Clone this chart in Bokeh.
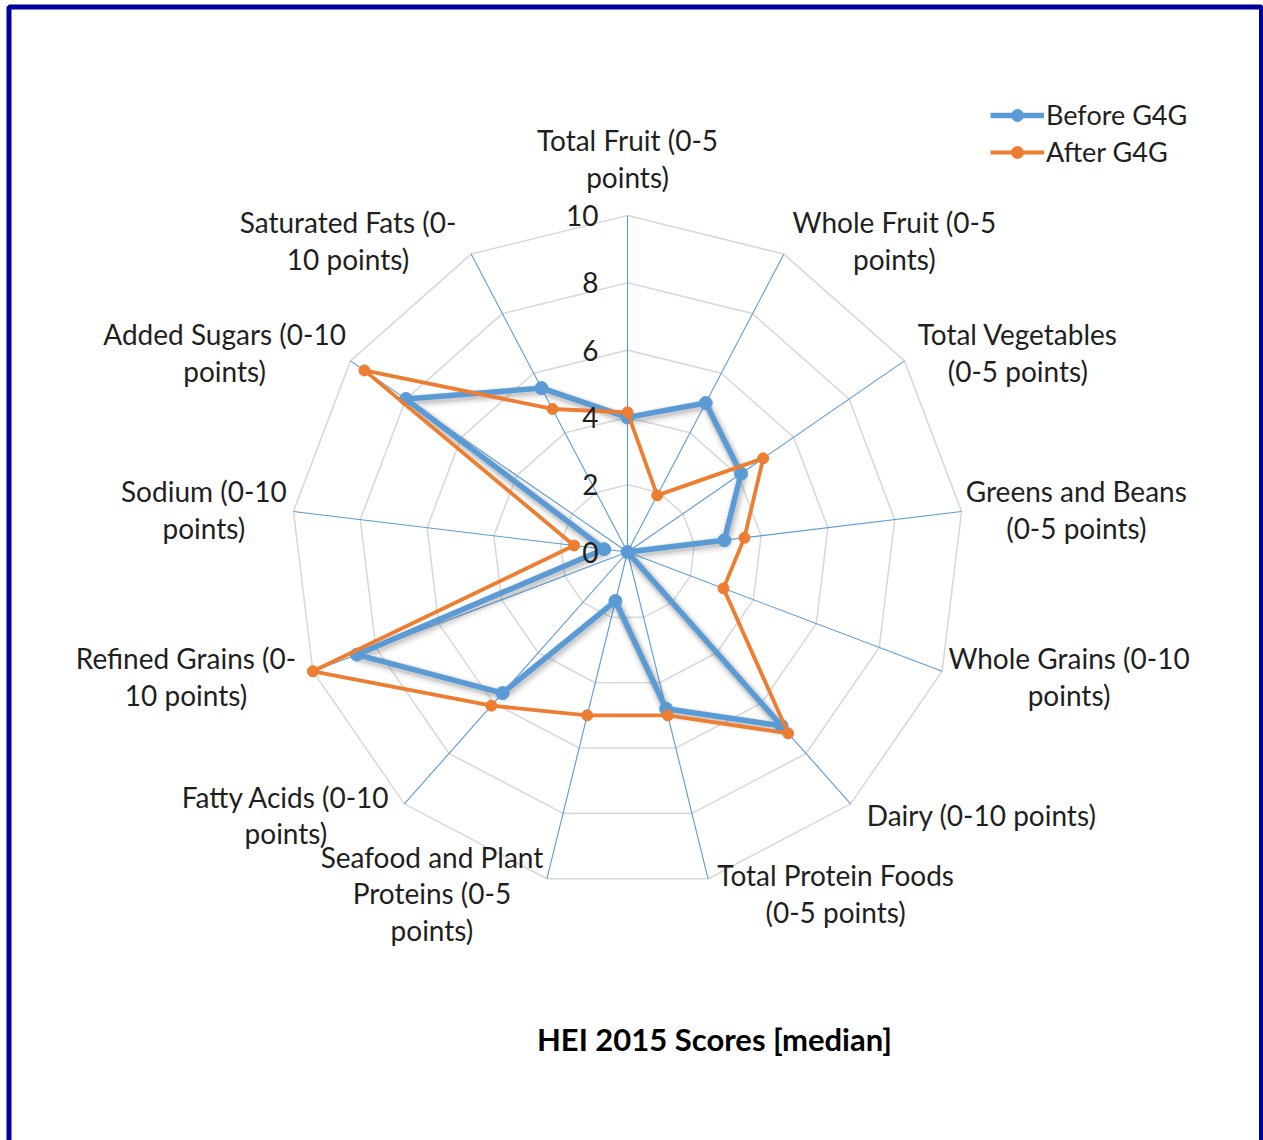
import numpy as np
from bokeh.plotting import figure
from bokeh.models import Range1d, Legend, LegendItem
from bokeh.core.properties import value
from bokeh.embed import file_html
from bokeh.resources import INLINE

# HEI-2015 components (clockwise from the top), as wrapped axis labels
categories = [
    "Total Fruit (0-5\npoints)",
    "Whole Fruit (0-5\npoints)",
    "Total Vegetables\n(0-5 points)",
    "Greens and Beans\n(0-5 points)",
    "Whole Grains (0-10\npoints)",
    "Dairy (0-10 points)",
    "Total Protein Foods\n(0-5 points)",
    "Seafood and Plant\nProteins (0-5\npoints)",
    "Fatty Acids (0-10\npoints)",
    "Refined Grains (0-\n10 points)",
    "Sodium (0-10\npoints)",
    "Added Sugars (0-10\npoints)",
    "Saturated Fats (0-\n10 points)",
]
before_g4g = [4.0, 5.0, 4.1, 2.9, 0.0, 6.9, 4.8, 1.5, 5.6, 8.6, 0.7, 8.0, 5.5]
after_g4g = [4.15, 1.9, 4.9, 3.5, 3.05, 7.2, 5.0, 5.0, 6.1, 10.0, 1.6, 9.5, 4.8]
ring_levels = [0, 2, 4, 6, 8, 10]
series_names = ["Before G4G", "After G4G"]
chart_title = "HEI 2015 Scores [median]"

# ---- layout (screen pixels) ----
W, H = 1263, 1140
CX, CY = 627.0, 551.5          # chart centre
PX = 33.65                     # pixels per score point
R_MAX = ring_levels[-1]

FONT = "Lato"
LABEL_PX = 28
LINE_PX = 37
CHAR_PX = 12.6                 # rough average glyph width for label sizing
TEXT_COLOR = "#1f1f1f"
BLUE = "#5B9BD5"
ORANGE = "#ED7D31"
GRID = "#D9D9D9"


def ux(px):
    return (px - CX) / PX


def uy(py):
    return (CY - py) / PX


p = figure(
    width=W, height=H,
    x_range=Range1d(ux(0), ux(W)), y_range=Range1d(uy(H), uy(0)),
    output_backend="svg", toolbar_location=None,
    x_axis_location=None, y_axis_location=None,
    min_border=0, outline_line_color=None,
    background_fill_color="white", border_fill_color="white",
)
p.xgrid.visible = False
p.ygrid.visible = False

n = len(categories)
theta = np.arange(n) * 2 * np.pi / n
sin_t, cos_t = np.sin(theta), np.cos(theta)

# ring gridlines
ring_xs, ring_ys = [], []
for lvl in ring_levels[1:]:
    ring_xs.append(list(lvl * sin_t) + [lvl * sin_t[0]])
    ring_ys.append(list(lvl * cos_t) + [lvl * cos_t[0]])
p.multi_line(ring_xs, ring_ys, line_color=GRID, line_width=1.6)

# spokes
p.multi_line([[0, R_MAX * s] for s in sin_t], [[0, R_MAX * c] for c in cos_t],
             line_color=BLUE, line_width=1.1)


def closed(vals):
    v = np.asarray(vals, dtype=float)
    xs = v * sin_t
    ys = v * cos_t
    return list(xs) + [xs[0]], list(ys) + [ys[0]], list(xs), list(ys)


bx, by, bpx, bpy = closed(before_g4g)
ax_, ay_, apx, apy = closed(after_g4g)

# soft drop shadow under the "before" series
for w, a, dx, dy in [(15, 0.07, 1.5, 3.0), (11, 0.11, 1.5, 2.5), (8, 0.16, 1.0, 2.0)]:
    p.line([x + dx / PX for x in bx], [y - dy / PX for y in by],
           line_color="#606060", line_width=w, line_alpha=a, line_join="round")

b_line = p.line(bx, by, line_color=BLUE, line_width=5.5, line_join="round")
b_pts = p.scatter(bpx, bpy, size=13, fill_color=BLUE, line_color=BLUE)
a_line = p.line(ax_, ay_, line_color=ORANGE, line_width=3.8, line_join="round")
a_pts = p.scatter(apx, apy, size=11, fill_color=ORANGE, line_color=ORANGE)

# category labels placed just outside each spoke end
lab_x, lab_y = [], []
for k, lab in enumerate(categories):
    lines = lab.split("\n")
    w_est = max(len(s) for s in lines) * CHAR_PX
    h = len(lines) * LINE_PX
    ex = CX + R_MAX * PX * sin_t[k]
    ey = CY - R_MAX * PX * cos_t[k]
    if abs(sin_t[k]) < 0.05:
        cx, cy = ex, ey - 20 - h / 2
    else:
        sgn = np.sign(sin_t[k])
        cx = ex + sgn * (6 + 8 * abs(sin_t[k]) + w_est / 2)
        cy = ey - 15 * cos_t[k]
    lab_x.append(ux(cx))
    lab_y.append(uy(cy))
p.text(lab_x, lab_y, text=categories, text_font=value(FONT),
       text_font_size=f"{LABEL_PX}px", text_color=TEXT_COLOR,
       text_align="center", text_baseline="middle",
       text_line_height=1.08)

# radial tick labels along the top spoke
p.text([0] * len(ring_levels), ring_levels, text=[str(v) for v in ring_levels],
       x_offset=-29, text_font=value(FONT), text_font_size=f"{LABEL_PX}px",
       text_color=TEXT_COLOR, text_align="right", text_baseline="middle")

# title
p.text([ux(714)], [uy(1038)], text=[chart_title], text_font=value(FONT),
       text_font_size="31px", text_font_style="bold", text_color="#000000",
       text_align="center", text_baseline="middle")

# outer frame
p.quad(left=[ux(8.5)], right=[ux(1261)], top=[uy(6.5)], bottom=[uy(1200)],
       fill_color=None, line_color="#00009E", line_width=5)

legend = Legend(
    items=[LegendItem(label=series_names[0], renderers=[b_line, b_pts]),
           LegendItem(label=series_names[1], renderers=[a_line, a_pts])],
    location=(990, H - 104 - 64),
    glyph_width=54, glyph_height=30, label_height=30, spacing=4,
    label_standoff=2, padding=0, margin=0,
    border_line_color=None, background_fill_alpha=0,
    label_text_font=FONT, label_text_font_size="27px",
    label_text_color=TEXT_COLOR,
)
p.add_layout(legend)

open("out.html", "w").write(file_html(p, INLINE))
